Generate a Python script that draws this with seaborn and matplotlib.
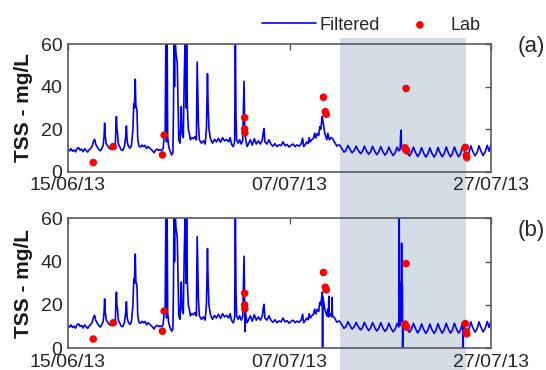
import numpy as np
import pandas as pd
import seaborn as sns
import matplotlib.pyplot as plt
import matplotlib.dates as mdates
import matplotlib.transforms as mtransforms
from matplotlib.patches import Rectangle

# start of record (day 0)
start = pd.Timestamp("2013-06-15")

# filtered TSS, panel (a): days since 15/06/13 and mg/L
filt_a_days = [
    0.00, 0.15, 0.30, 0.45, 0.60, 0.75, 0.90, 1.05, 1.20, 1.35, 1.50, 1.65, 1.80, 1.95,
    2.10, 2.25, 2.40, 2.55, 2.65, 2.75, 2.90, 3.05, 3.20, 3.35, 3.50, 3.58, 3.64, 3.70,
    3.80, 3.95, 4.10, 4.25, 4.40, 4.55, 4.70, 4.76, 4.81, 4.86, 4.92, 5.00, 5.15, 5.30,
    5.45, 5.60, 5.72, 5.80, 5.88, 6.00, 6.15, 6.30, 6.45, 6.53, 6.60, 6.68, 6.74, 6.85,
    6.93, 7.05, 7.20, 7.35, 7.50, 7.65, 7.80, 7.95, 8.10, 8.25, 8.40, 8.55, 8.70, 8.85,
    9.00, 9.15, 9.30, 9.45, 9.55, 9.65, 9.72, 9.78, 9.84, 9.90,
    10.00, 10.15, 10.30, 10.42, 10.48, 10.52, 10.58, 10.63, 10.72, 10.85, 10.93, 11.00,
    11.12, 11.25, 11.32, 11.45, 11.55, 11.65, 11.72, 11.78, 11.85, 11.95, 12.05, 12.15,
    12.30, 12.45, 12.60, 12.75, 12.83, 12.88, 12.95, 13.05, 13.25, 13.45, 13.62, 13.75,
    13.85, 13.92, 14.00, 14.15, 14.35, 14.55, 14.75, 14.95, 15.15, 15.35, 15.55, 15.75,
    15.95, 16.10, 16.25, 16.40, 16.55, 16.62, 16.68, 16.75, 16.90, 17.05, 17.20, 17.35,
    17.42, 17.48, 17.55, 17.65, 17.78, 17.95, 18.10, 18.30, 18.50, 18.70, 18.90, 19.10,
    19.30, 19.40, 19.47, 19.55, 19.75, 19.95,
    20.15, 20.35, 20.55, 20.75, 20.95, 21.15, 21.35, 21.55, 21.75, 21.95, 22.15, 22.35,
    22.55, 22.75, 22.95, 23.15, 23.30, 23.40, 23.55, 23.70, 23.85, 23.95, 24.05, 24.20,
    24.35, 24.50, 24.60, 24.75, 24.90, 25.00, 25.10, 25.18, 25.25, 25.32, 25.40, 25.50,
    25.60, 25.70, 25.80, 25.95, 26.10, 26.25, 26.40, 26.55, 26.70, 26.85,
    27.00, 27.20, 27.40, 27.60, 27.80, 28.00, 28.20, 28.40, 28.61, 28.80, 29.05, 29.25,
    29.43, 29.62, 29.85, 30.05, 30.24, 30.43, 30.65, 30.85, 31.05, 31.25, 31.47, 31.67,
    31.86, 32.05, 32.28, 32.48, 32.68, 32.85, 32.98, 33.03, 33.07, 33.11, 33.30, 33.49,
    33.70, 33.90, 34.10, 34.30, 34.50, 34.72, 34.92, 35.11, 35.30, 35.53, 35.73, 35.93,
    36.12, 36.35, 36.55, 36.74, 36.93, 37.16, 37.36, 37.56, 37.75, 37.98, 38.18, 38.37,
    38.56, 38.79, 38.99, 39.19, 39.38, 39.61, 39.81, 40.00, 40.19, 40.42, 40.62, 40.81,
    41.00, 41.22, 41.42, 41.63, 41.82, 42.00,
]
filt_a_vals = [
    10.5, 9.8, 10.8, 9.6, 10.2, 9.3, 10.9, 11.3, 10.1, 10.6, 9.4, 10.8, 10.0, 9.2,
    10.3, 10.9, 12.0, 14.6, 15.2, 13.0, 11.6, 10.6, 9.8, 10.8, 12.5, 16.5, 22.8, 17.0,
    13.2, 12.0, 11.0, 10.6, 11.4, 10.8, 12.0, 21.5, 25.9, 20.0, 18.0, 13.0, 11.6, 10.2,
    10.0, 11.8, 16.0, 21.5, 14.0, 12.0, 11.0, 12.2, 20.0, 32.0, 30.0, 43.5, 31.0, 29.0,
    15.0, 12.0, 11.6, 12.5, 11.8, 12.4, 10.9, 11.8, 11.2, 10.5, 9.8, 8.9, 10.2, 10.6,
    10.0, 10.4, 9.9, 11.0, 16.5, 18.0, 65.0, 14.0, 65.0, 16.5,
    11.8, 9.4, 7.9, 9.0, 30.0, 65.0, 40.0, 65.0, 55.8, 51.0, 30.6, 15.0,
    13.4, 30.6, 18.0, 16.0, 44.8, 65.0, 30.0, 65.0, 30.6, 20.0, 18.0, 15.0,
    16.0, 15.5, 16.5, 15.0, 51.5, 38.5, 22.8, 15.0, 13.4, 14.5, 13.0, 20.5,
    46.0, 30.0, 20.0, 15.5, 13.4, 15.2, 14.0, 15.7, 13.8, 16.0, 14.5, 15.2,
    14.0, 16.0, 12.8, 11.8, 14.0, 65.0, 25.9, 15.0, 13.4, 15.0, 13.0, 14.5,
    30.0, 42.5, 21.0, 15.0, 11.8, 13.4, 15.0, 12.5, 15.5, 13.0, 14.5, 13.0,
    15.0, 19.0, 20.3, 14.0, 13.0, 15.0,
    13.0, 12.0, 13.2, 11.8, 12.6, 12.2, 14.0, 12.2, 12.8, 11.6, 12.4, 13.0,
    11.8, 12.6, 12.0, 13.0, 15.7, 11.8, 12.6, 14.0, 13.2, 16.0, 14.0, 15.0,
    15.5, 18.1, 15.8, 18.0, 17.0, 21.2, 20.0, 23.0, 26.0, 23.5, 21.2, 18.0,
    16.5, 15.0, 18.1, 15.0, 16.0, 15.7, 14.5, 13.4, 12.0, 12.6,
    12.4, 10.8, 9.2, 10.0, 12.3, 10.6, 8.9, 9.8, 12.0, 10.2, 8.5, 9.6,
    12.0, 10.0, 8.2, 9.4, 11.9, 9.9, 8.0, 9.2, 11.8, 9.6, 7.8, 9.0,
    11.6, 9.5, 7.6, 8.8, 11.5, 9.8, 10.5, 17.0, 19.5, 12.5, 9.6, 11.2,
    8.8, 7.4, 8.8, 11.5, 9.2, 7.1, 8.6, 11.3, 8.9, 6.9, 8.4, 11.2,
    8.8, 6.9, 8.4, 11.4, 9.0, 7.0, 8.6, 11.6, 9.1, 7.0, 8.5, 11.6,
    9.1, 7.0, 8.6, 11.8, 9.3, 7.2, 8.8, 12.2, 9.6, 7.5, 9.0, 12.2,
    9.8, 7.6, 9.2, 12.4, 9.6, 12.6,
]

# extra readings that only panel (b) shows (drop-outs and the spike burst)
filt_b_extra_days = [17.58, 17.61, 25.27, 25.28, 25.29, 25.86, 25.90, 25.93, 26.18, 26.22, 26.26,
                     32.87, 32.89, 32.91, 32.94, 32.96, 33.00, 33.05, 33.09, 33.13, 33.15, 33.18,
                     33.21, 33.23, 33.25, 39.21, 39.22, 39.23]
filt_b_extra_vals = [7.7, 17.0, 24.0, 0.0, 22.0, 14.5, 24.0, 15.5, 14.5, 23.5, 15.0,
                     28.0, 65.0, 26.0, 30.0, 14.0, 30.0, 27.0, 14.0, 48.5, 13.0, 30.0,
                     27.0, 0.0, 10.5, 10.0, 0.0, 10.5]

# lab samples
lab_days = [2.51, 4.49, 9.38, 9.55, 17.54, 17.54, 17.56, 25.37, 25.55, 25.65,
            33.47, 33.57, 33.63, 39.45, 39.55, 39.60]
lab_vals = [4.3, 11.8, 7.9, 17.2, 25.4, 20.1, 18.2, 35.0, 28.2, 27.0,
            11.2, 39.1, 9.8, 11.4, 7.6, 6.7]

tick_dates = ["2013-06-15", "2013-07-07", "2013-07-27"]
shade_days = [27.05, 39.48]
y_ticks = [0, 20, 40, 60]


def to_time(days):
    return start + pd.to_timedelta(np.asarray(days), unit="D")


df_a = pd.DataFrame({"t": to_time(filt_a_days), "v": filt_a_vals})
df_b = pd.concat([
    pd.DataFrame({"d": filt_a_days, "v": filt_a_vals}),
    pd.DataFrame({"d": filt_b_extra_days, "v": filt_b_extra_vals}),
]).sort_values("d")
df_b["t"] = to_time(df_b["d"].values)
df_lab = pd.DataFrame({"t": to_time(lab_days), "v": lab_vals})

sns.set_style("white")
plt.rcParams["font.family"] = ["Liberation Sans", "DejaVu Sans"]

fig = plt.figure(figsize=(5.46, 3.70), dpi=100)
ax1 = fig.add_axes([0.1245, 0.536, 0.7747, 0.345])
ax2 = fig.add_axes([0.1245, 0.0586, 0.7747, 0.3514])

for ax, df in [(ax1, df_a), (ax2, df_b)]:
    ax.set_facecolor("none")
    sns.lineplot(data=df, x="t", y="v", ax=ax, color="#0000ff", linewidth=1.2,
                 estimator=None, sort=False, label="Filtered")
    sns.scatterplot(data=df_lab, x="t", y="v", ax=ax, color="#ff0000", s=30,
                    edgecolor="none", label="Lab", zorder=3)
    if ax.get_legend() is not None:
        ax.get_legend().remove()
    ax.set_xlim(start, start + pd.Timedelta(days=42))
    ax.set_ylim(0, 60)
    ax.set_yticks(y_ticks)
    ax.set_xticks(pd.to_datetime(tick_dates))
    ax.xaxis.set_major_formatter(mdates.DateFormatter("%d/%m/%y"))
    ax.tick_params(direction="in", length=4, width=1, top=True, right=True,
                   labelsize=14, color="#555555", labelcolor="#262626", pad=4)
    ax.tick_params(axis="x", pad=4)
    for sp in ax.spines.values():
        sp.set_color("#5a5a5a")
        sp.set_linewidth(1.2)
    ax.set_xlabel("")
    ax.set_ylabel("TSS - mg/L", fontsize=15, fontweight="bold", color="#1a1a1a")
    ax.yaxis.set_label_coords(-0.082, 0.5)

# grey band across both panels
x0 = mdates.date2num(to_time([shade_days[0]])[0])
x1 = mdates.date2num(to_time([shade_days[1]])[0])
trans = mtransforms.blended_transform_factory(ax1.transData, fig.transFigure)
fig.add_artist(Rectangle((x0, 0), x1 - x0, 0.8965, transform=trans,
                         facecolor="#d4dce5", edgecolor="none", zorder=-1))

handles, labels = ax1.get_legend_handles_labels()
fig.legend(handles, labels, loc="center", bbox_to_anchor=(0.680, 0.932), ncol=2,
           frameon=False, fontsize=13, handlelength=3.0, handletextpad=0.2,
           columnspacing=0.7, markerscale=1.0)

fig.text(0.9725, 0.875, "(a)", ha="center", va="center", fontsize=16)
fig.text(0.9725, 0.378, "(b)", ha="center", va="center", fontsize=16)

plt.savefig("out.png", dpi=100)
plt.close()
